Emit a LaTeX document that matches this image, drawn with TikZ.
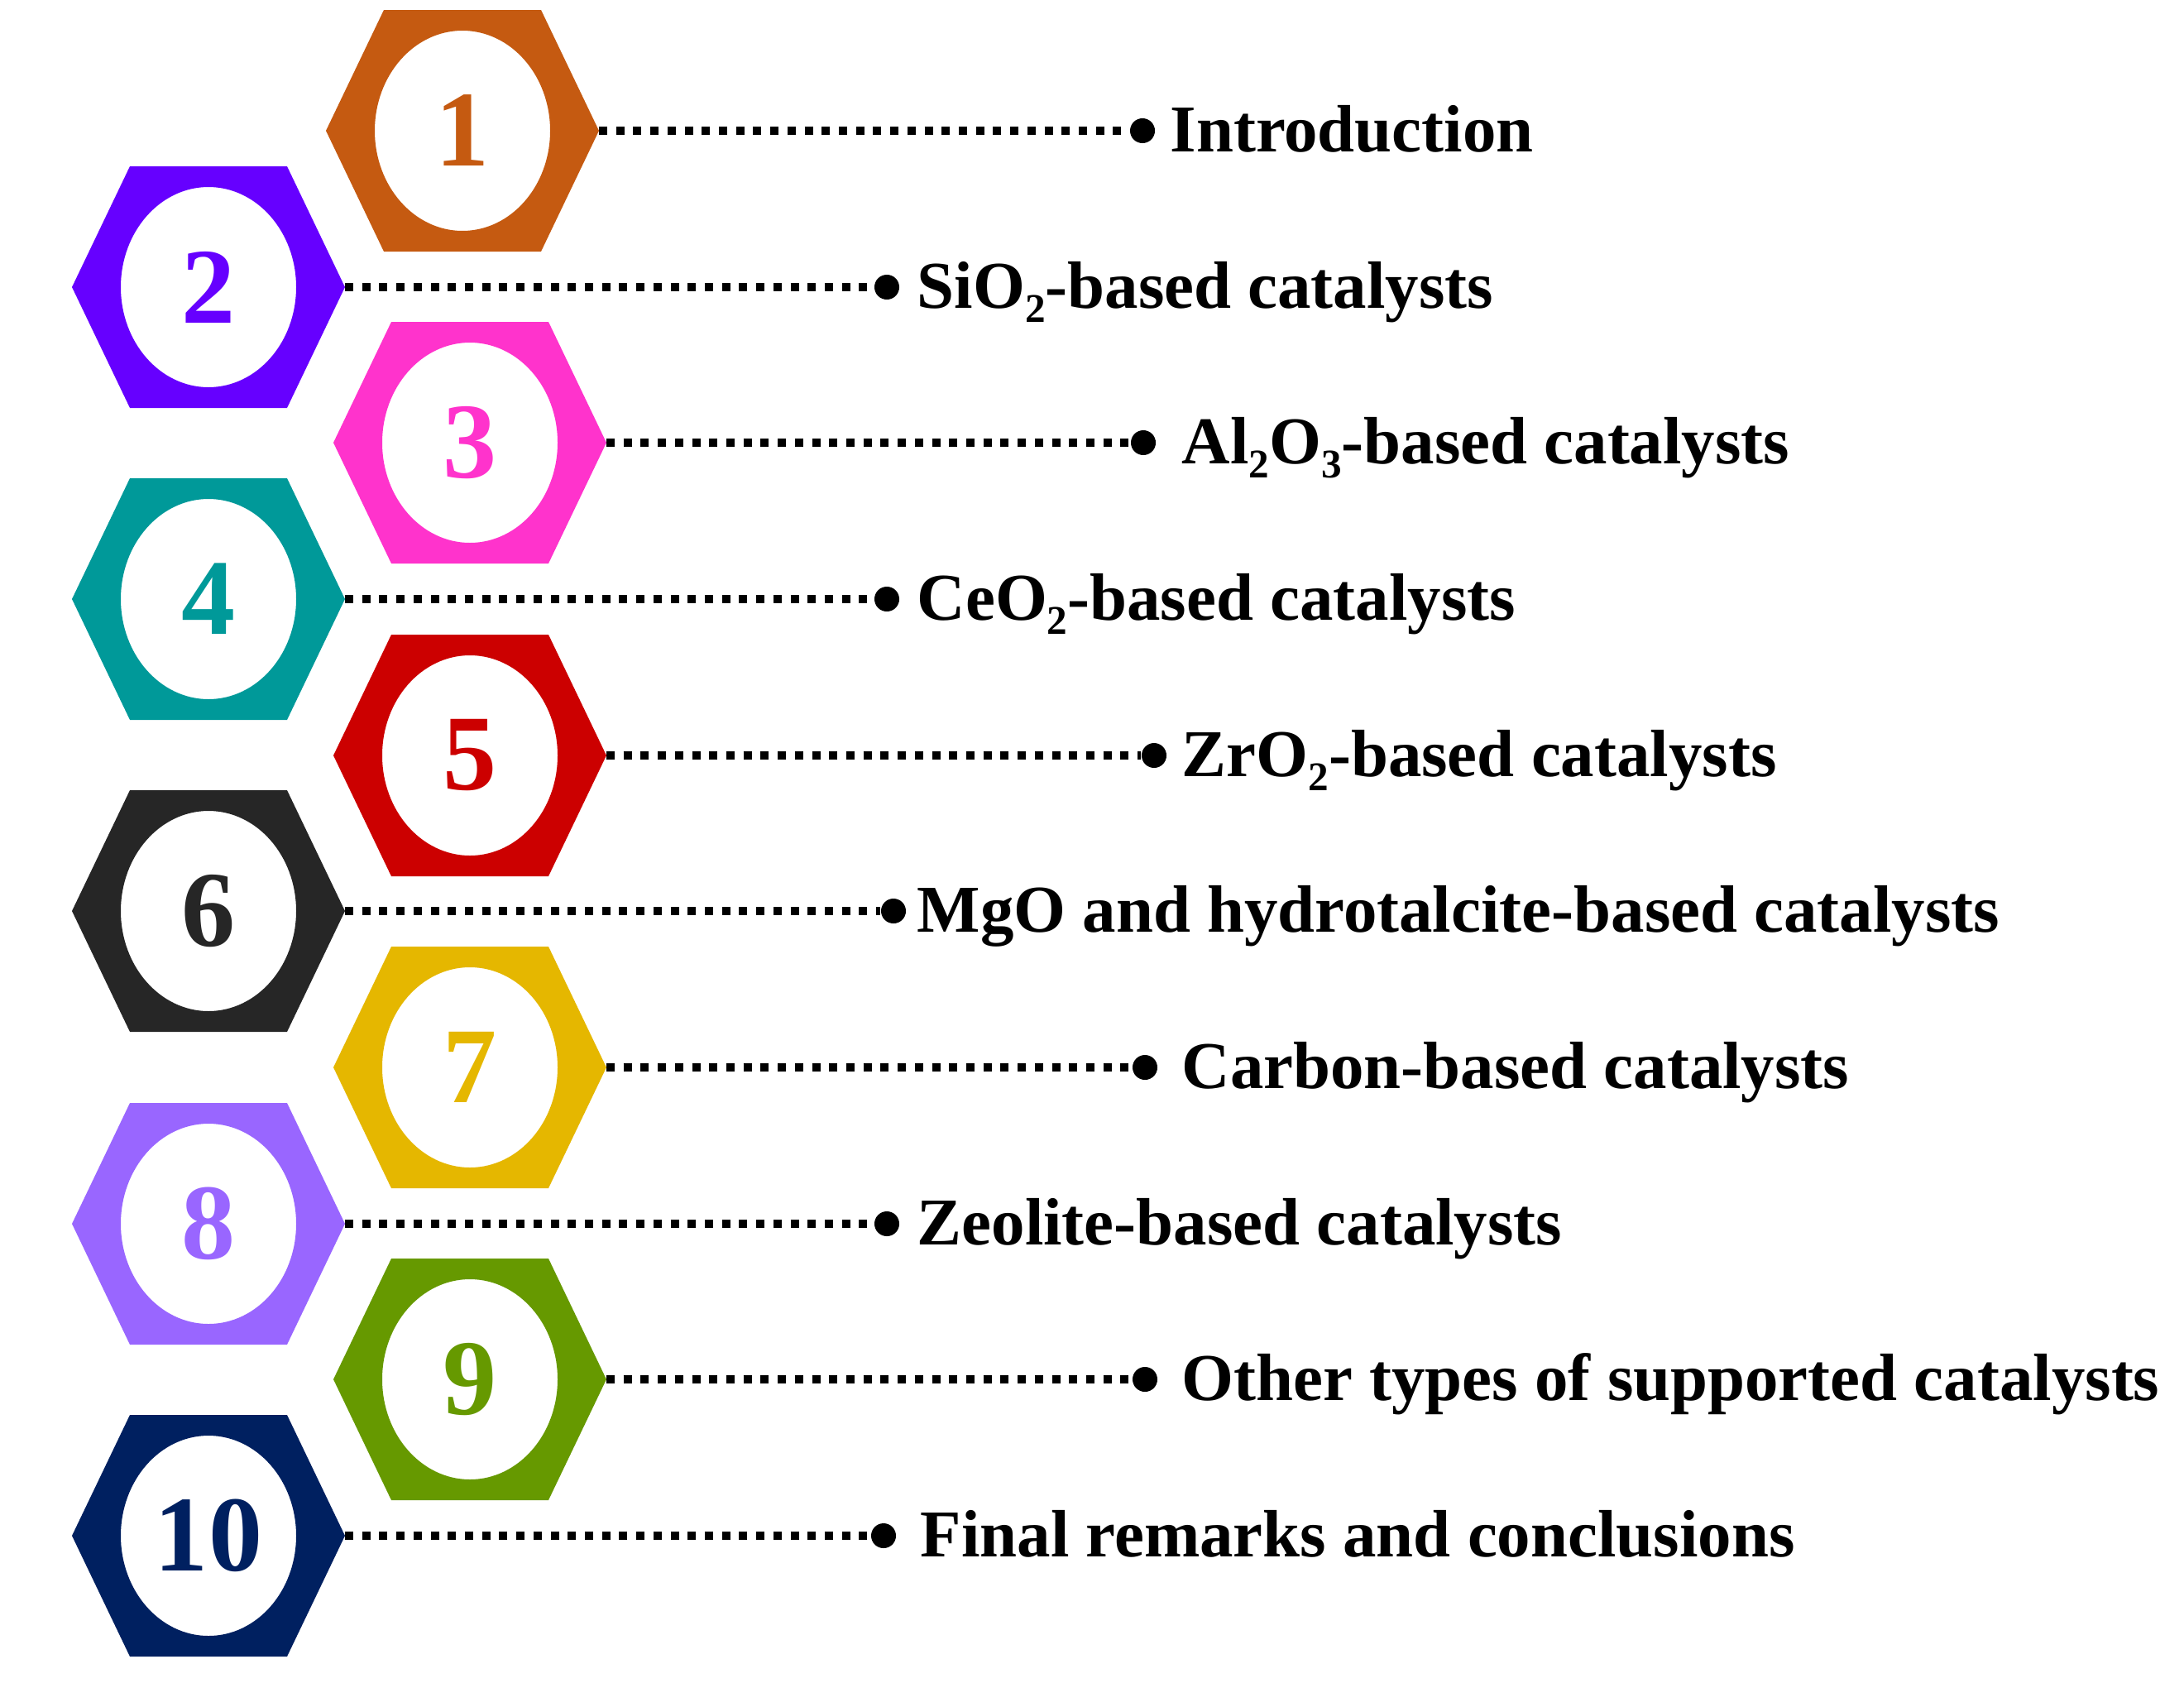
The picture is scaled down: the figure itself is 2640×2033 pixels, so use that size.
\documentclass[tikz,border=0pt]{standalone}
\usepackage{fontspec}
\setmainfont{Liberation Serif}
\definecolor{c1}{HTML}{C55A11}
\definecolor{c2}{HTML}{6600FF}
\definecolor{c3}{HTML}{FF33CC}
\definecolor{c4}{HTML}{009999}
\definecolor{c5}{HTML}{CC0000}
\definecolor{c6}{HTML}{262626}
\definecolor{c7}{HTML}{E5B700}
\definecolor{c8}{HTML}{9966FF}
\definecolor{c9}{HTML}{669900}
\definecolor{c10}{HTML}{002060}
\newcommand\lowsub[1]{\raisebox{-5.1pt}{\fontsize{14}{14}\selectfont #1}}
\tikzset{
  numtext/.style={inner sep=0pt, font=\fontsize{37}{45}\selectfont\bfseries},
  labeltext/.style={inner sep=0pt, anchor=base west, font=\fontsize{23}{27}\selectfont\bfseries, text=black},
  enddot/.style={circle, fill=black, inner sep=0pt, minimum size=0.30cm},
  dotline/.style={line width=0.10cm, dash pattern=on 0.10cm off 0.107cm, line cap=butt, black}
}
% #1 number, #2 cx, #3 cy, #4 colour, #5 dot x, #6 text x, #7 text
\newcommand\hexrow[7]{%
  \fill[#4, even odd rule] (#2-165,#3) -- (#2-95,#3-146) -- (#2+95,#3-146) -- (#2+165,#3)
        -- (#2+95,#3+146) -- (#2-95,#3+146) -- cycle
        (#2,#3) ellipse [x radius=106, y radius=121];
  \coordinate (r#1) at (#2+165,#3);
  \node[numtext, text=#4] (n#1) at (#2,#3) {#1};
  \node[enddot] (d#1) at (#5,#3) {};
  \draw[dotline] (r#1) -- (d#1);
  \node[labeltext] (t#1) at (#6,#3+25) {#7};
}
\begin{document}
\begin{tikzpicture}[x=0.01cm, y=-0.01cm]
\useasboundingbox (0,0) rectangle (2640,2033);
\hexrow{1}{559}{158}{c1}{1381}{1414}{Introduction}
\hexrow{2}{252}{347}{c2}{1072}{1108}{SiO\lowsub{2}-based catalysts}
\hexrow{3}{568}{535}{c3}{1382}{1428}{Al\lowsub{2}O\lowsub{3}-based catalysts}
\hexrow{4}{252}{724}{c4}{1072}{1108}{CeO\lowsub{2}-based catalysts}
\hexrow{5}{568}{913}{c5}{1395}{1428}{ZrO\lowsub{2}-based catalysts}
\hexrow{6}{252}{1101}{c6}{1080}{1108}{MgO and hydrotalcite-based catalysts}
\hexrow{7}{568}{1290}{c7}{1384}{1428}{Carbon-based catalysts}
\hexrow{8}{252}{1479}{c8}{1072}{1108}{Zeolite-based catalysts}
\hexrow{9}{568}{1667}{c9}{1384}{1428}{Other types of supported catalysts}
\hexrow{10}{252}{1856}{c10}{1068}{1112}{Final remarks and conclusions}
\end{tikzpicture}
\end{document}
